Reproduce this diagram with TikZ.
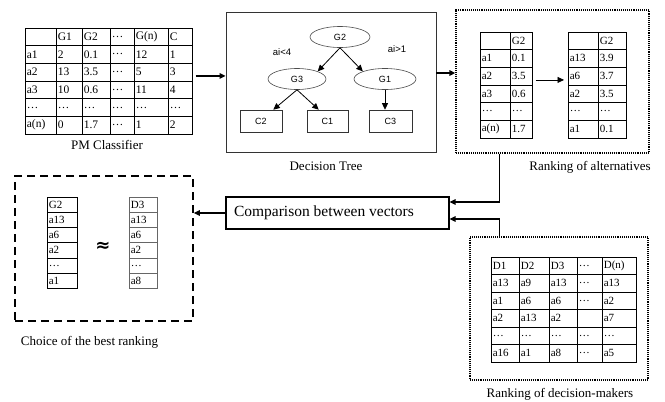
\documentclass[tikz,border=0pt]{standalone}
\usepackage{fontspec}
\setmainfont{Liberation Serif}
\newfontfamily\arialfont{Liberation Sans}
\newfontfamily\djv{DejaVu Sans}
\usetikzlibrary{matrix,arrows.meta,shapes.geometric,calc}
\begin{document}
\begin{tikzpicture}[x=1pt,y=-1pt,
  tbl/.style={matrix of nodes, nodes in empty cells, column sep=-0.6pt, row sep=-0.6pt,
    nodes={draw, line width=0.6pt, inner xsep=2pt, inner ysep=0.5pt, align=left, anchor=center,
      font=\fontsize{11}{11.5}\selectfont}},
  captxt/.style={font=\fontsize{13}{15}\selectfont, inner sep=0pt},
  ell/.style={ellipse, draw=black!70, line width=0.6pt, inner sep=0pt, minimum height=21pt,
    font=\arialfont\fontsize{9}{10}\selectfont},
  leaf/.style={rectangle, draw=black!80, line width=0.6pt, minimum height=22pt,
    font=\arialfont\fontsize{9}{10}\selectfont},
  lbl/.style={font=\arialfont\fontsize{9.5}{10}\selectfont, inner sep=0pt},
  conn/.style={line width=1.4pt, -{Triangle[length=6pt,width=5.5pt]}},
  tarr/.style={line width=0.8pt, -{Triangle[length=6.5pt,width=6pt]}},
  dotbox/.style={draw, line width=1.3pt, dash pattern=on 1pt off 0.9pt},
]
\useasboundingbox (0,0) rectangle (665,402);
\fill[white] (0,0) rectangle (665,402);

% PM classifier table
\matrix (pm) [tbl, anchor=north west,
  column 1/.style={nodes={text width=27pt}},
  column 2/.style={nodes={text width=22pt}},
  column 3/.style={nodes={text width=24pt}},
  column 4/.style={nodes={text width=20pt}},
  column 5/.style={nodes={text width=30pt}},
  column 6/.style={nodes={text width=20pt}},
  nodes={minimum height=17.7pt, font=\fontsize{11.5}{12}\selectfont}] at (21,24) {
   & G1 & G2 & \ldots & G(n) & C \\
  a1 & 2 & 0.1 & \ldots & 12 & 1 \\
  a2 & 13 & 3.5 & \ldots & 5 & 3 \\
  a3 & 10 & 0.6 & \ldots & 11 & 4 \\
  \ldots & \ldots & \ldots & \ldots & \ldots & \ldots \\
  a(n) & 0 & 1.7 & \ldots & 1 & 2 \\
};
\node[captxt] (pmcap) at (107,145) {PM Classifier};

% Decision tree
\node[draw=black!80, line width=0.8pt, minimum width=210pt, minimum height=140pt] (dt) at (331,82) {};
\node[ell, minimum width=60pt] (g2) at (340,37) {G2};
\node[ell, minimum width=58pt] (g3) at (297,79) {G3};
\node[ell, minimum width=62pt] (g1) at (385,79) {G1};
\node[leaf, minimum width=42pt] (c2) at (261,121) {C2};
\node[leaf, minimum width=41pt] (c1) at (327.5,121) {C1};
\node[leaf, minimum width=43pt] (c3) at (390.5,121) {C3};
\node[lbl] (l1) at (282,52) {ai<4};
\node[lbl] (l2) at (397,49) {ai>1};
\draw[tarr] (g2.south) -- (g3.north east);
\draw[tarr] (g2.south) -- (g1.north west);
\draw[tarr] (g3.south) -- ([xshift=-9pt]c2.north east);
\draw[tarr] (g3.south) -- ([xshift=12pt]c1.north west);
\draw[tarr] (g1.south) -- (g1.south |- c3.north);
\node[captxt] (dtcap) at (326,166) {Decision Tree};

% Ranking of alternatives
\node[dotbox, minimum width=193pt, minimum height=143pt] (rk1) at (552.5,81.5) {};
\matrix (ta1) [tbl, anchor=north west,
  column 1/.style={nodes={text width=26pt}},
  column 2/.style={nodes={text width=18pt}},
  nodes={minimum height=17.7pt}] at (476,28) {
   & G2 \\
  a1 & 0.1 \\
  a2 & 3.5 \\
  a3 & 0.6 \\
  \ldots & \ldots \\
  a(n) & 1.7 \\
};
\matrix (ta2) [tbl, anchor=north west,
  column 1/.style={nodes={text width=26pt}},
  column 2/.style={nodes={text width=24pt}},
  nodes={minimum height=17.7pt}] at (564,28) {
   & G2 \\
  a13 & 3.9 \\
  a6 & 3.7 \\
  a2 & 3.5 \\
  \ldots & \ldots \\
  a1 & 0.1 \\
};
\coordinate (q1) at ([yshift=5pt]ta1.east);
\draw[tarr] (q1) -- (q1 -| ta2.west);
\node[captxt] (rk1cap) at (590,167) {Ranking of alternatives};

% Comparison
\node[draw, line width=1.2pt, minimum width=223pt, minimum height=32pt, inner sep=0pt,
  font=\fontsize{15.5}{17}\selectfont] (cmp) at (337.5,213) {\makebox[207pt][l]{Comparison between vectors}};

% Ranking of decision-makers
\node[dotbox, minimum width=178pt, minimum height=143pt] (rk2) at (559,308.5) {};
\matrix (dm) [tbl, anchor=north west,
  column 1/.style={nodes={text width=24pt}},
  column 2/.style={nodes={text width=26pt}},
  column 3/.style={nodes={text width=24pt}},
  column 4/.style={nodes={text width=21pt}},
  column 5/.style={nodes={text width=30pt}},
  nodes={minimum height=17.5pt}] at (487,253) {
  D1 & D2 & D3 & \ldots & D(n) \\
  a13 & a9 & a13 & \ldots & a13 \\
  a1 & a6 & a6 & \ldots & a2 \\
  a2 & a13 & a2 & & a7 \\
  \ldots & \ldots & \ldots & \ldots & \ldots \\
  a16 & a1 & a8 & \ldots & a5 \\
};
\node[captxt] (rk2cap) at (560,394) {Ranking of decision-makers};

% Choice of the best ranking
\node[draw, line width=1.5pt, dash pattern=on 8pt off 5pt, minimum width=178pt, minimum height=145pt] (ch) at (104,248.5) {};
\matrix (cA) [tbl, anchor=north west,
  column 1/.style={nodes={text width=26pt}},
  nodes={minimum height=15.3pt}] at (43,193) {
  G2 \\ a13 \\ a6 \\ a2 \\ \ldots \\ a1 \\
};
\matrix (cB) [tbl, anchor=north west,
  column 1/.style={nodes={text width=24pt, draw=black!60}},
  nodes={minimum height=15.3pt}] at (125,193) {
  D3 \\ a13 \\ a6 \\ a2 \\ \ldots \\ a8 \\
};
\node[font=\djv\bfseries\fontsize{18}{18}\selectfont, inner sep=0pt] (apx) at (103,247) {≈};
\node[captxt] (chcap) at (89.5,342) {Choice of the best ranking};

% Connectors
\coordinate (p1) at ([yshift=5pt]pm.east);
\draw[conn] (p1) -- (p1 -| dt.west);
\coordinate (p2) at ([yshift=9pt]dt.east);
\draw[conn] (p2) -- (p2 -| rk1.west);
\draw[conn] ([xshift=44pt]rk1.south west) |- ([yshift=11pt]cmp.east);
\draw[conn] ([xshift=30pt]rk2.north west) |- ([yshift=-6pt]cmp.east);
\draw[conn] (cmp.west) -- (cmp.west -| ch.east);
\end{tikzpicture}
\end{document}
